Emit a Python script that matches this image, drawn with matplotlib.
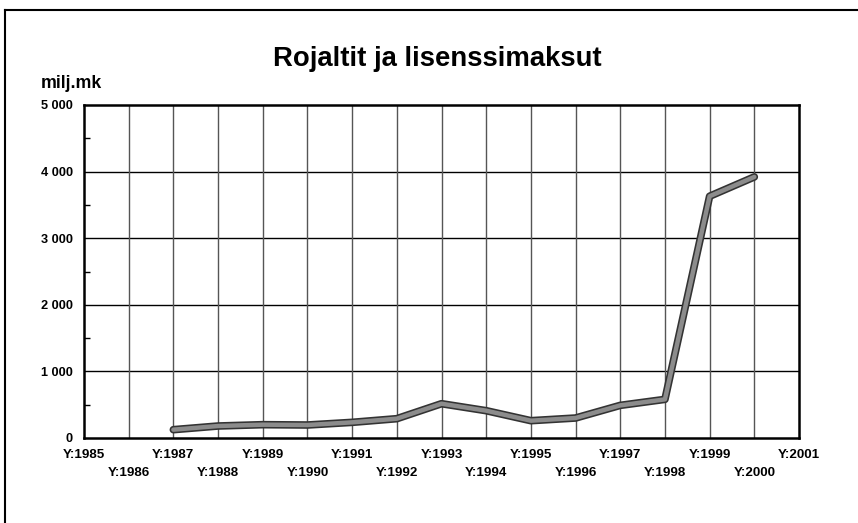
import matplotlib
matplotlib.use("Agg")
import matplotlib.pyplot as plt
import matplotlib.patheffects as pe
from matplotlib.ticker import MultipleLocator, FuncFormatter

plt.rcParams['font.family'] = ['Liberation Sans', 'DejaVu Sans']
plt.rcParams['font.weight'] = 'bold'

# data (milj.mk)
years = [1987, 1988, 1989, 1990, 1991, 1992, 1993, 1994, 1995, 1996, 1997, 1998, 1999, 2000]
values = [125, 180, 200, 195, 235, 290, 515, 410, 260, 300, 490, 580, 3630, 3920]
odd_years = list(range(1985, 2002, 2))
even_years = list(range(1986, 2001, 2))

W, H = 858, 523
fig = plt.figure(figsize=(W / 100, H / 100), dpi=100)

# outer frame (only left and top visible in the crop)
fig.add_artist(plt.Line2D([5 / W, 5 / W], [0, 1 - 10 / H], color='black', lw=1.5))
fig.add_artist(plt.Line2D([5 / W, 1], [1 - 10 / H, 1 - 10 / H], color='black', lw=1.5))

left, right, top, bottom = 84, 799, 105, 438
ax = fig.add_axes([left / W, 1 - bottom / H, (right - left) / W, (bottom - top) / H])

ax.set_xlim(1985, 2001)
ax.set_ylim(0, 5000)

# grid
for y in range(1000, 5000, 1000):
    ax.axhline(y, color='black', lw=1, zorder=1)
for x in range(1986, 2001):
    ax.axvline(x, color='#555555', lw=1, zorder=1)

ax.plot(years, values, color='#8c8c8c', lw=3.2, solid_capstyle='round', zorder=3,
        path_effects=[pe.Stroke(linewidth=5.5, foreground='#333333'), pe.Normal()])

for s in ax.spines.values():
    s.set_linewidth(1.8)
    s.set_color('black')

ax.yaxis.set_major_locator(MultipleLocator(1000))
ax.yaxis.set_minor_locator(MultipleLocator(500))
ax.yaxis.set_major_formatter(FuncFormatter(lambda v, p: f"{int(v):,}".replace(",", " ")))
ax.tick_params(axis='y', which='major', length=0, pad=8, labelsize=9.2)
ax.tick_params(axis='y', which='minor', direction='in', length=4, width=1)

ax.set_xticks(odd_years)
ax.set_xticklabels([f"Y:{y}" for y in odd_years])
ax.set_xticks(even_years, minor=True)
ax.set_xticklabels([f"Y:{y}" for y in even_years], minor=True)
ax.tick_params(axis='x', which='major', length=0, pad=8, labelsize=9.6)
ax.tick_params(axis='x', which='minor', length=0, pad=21, labelsize=9.6)

fig.text(437 / W, 1 - 66 / H, "Rojaltit ja lisenssimaksut", ha='center', va='baseline',
         fontsize=19.8, fontweight='bold')
fig.text(41 / W, 1 - 83 / H, "milj.mk", ha='left', va='center', fontsize=12.8, fontweight='bold')

fig.savefig("out.png", dpi=100)
